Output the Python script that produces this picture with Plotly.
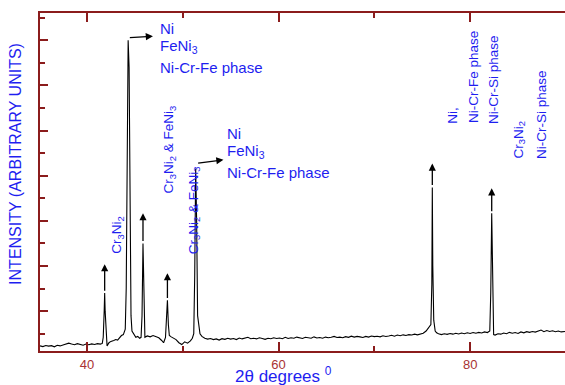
import plotly.graph_objects as go

# ---------------- data ----------------
two_theta = [
    35.1, 35.4, 35.7, 36.0, 36.3, 36.6, 36.9, 37.2, 37.5, 37.8, 38.1, 38.4, 38.7, 39.0, 39.3,
    39.6, 39.9, 40.2, 40.5, 40.8, 41.1, 41.4, 41.6, 41.7, 41.8, 41.85, 41.9, 42.0, 42.1, 42.3,
    42.5, 42.8, 43.0, 43.2, 43.4, 43.6, 43.8, 44.0, 44.1, 44.2, 44.3, 44.4, 44.5, 44.6, 44.7,
    44.9, 45.1, 45.3, 45.5, 45.65, 45.75, 45.85, 45.95, 46.05, 46.3, 46.6, 46.9, 47.2, 47.5, 47.8,
    48.0, 48.2, 48.3, 48.4, 48.5, 48.6, 48.8, 49.0, 49.3, 49.6, 49.9, 50.2, 50.5, 50.8, 51.0,
    51.15, 51.25, 51.35, 51.45, 51.55, 51.65, 51.8, 52.0, 52.3, 52.6, 52.9, 53.2, 53.5, 53.8, 54.1,
    54.4, 54.7, 55.0, 55.3, 55.6, 55.9, 56.2, 56.5, 56.8, 57.1, 57.4, 57.7, 58.0, 58.3, 58.6,
    58.9, 59.2, 59.5, 59.8, 60.1, 60.4, 60.7, 61.0, 61.3, 61.6, 61.9, 62.2, 62.5, 62.8, 63.1,
    63.4, 63.7, 64.0, 64.3, 64.6, 64.9, 65.2, 65.5, 65.8, 66.1, 66.4, 66.7, 67.0, 67.3, 67.6,
    67.9, 68.2, 68.5, 68.8, 69.1, 69.4, 69.7, 70.0, 70.3, 70.6, 70.9, 71.2, 71.5, 71.8, 72.1,
    72.4, 72.7, 73.0, 73.3, 73.6, 73.9, 74.2, 74.5, 74.8, 75.1, 75.4, 75.7, 75.9, 76.0, 76.05,
    76.1, 76.2, 76.35, 76.5, 76.7, 77.0, 77.3, 77.6, 77.9, 78.2, 78.5, 78.8, 79.1, 79.4, 79.7,
    80.0, 80.3, 80.6, 80.9, 81.2, 81.5, 81.8, 82.05, 82.15, 82.25, 82.35, 82.45, 82.6, 82.9, 83.2,
    83.5, 83.8, 84.1, 84.4, 84.7, 85.0, 85.3, 85.6, 85.9, 86.2, 86.5, 86.8, 87.1, 87.4, 87.7,
    88.0, 88.3, 88.6, 88.9, 89.2, 89.5, 89.8, 89.9,
]
intensity = [
    230, 215, 240, 225, 235, 210, 245, 230, 250, 265, 290, 270, 255, 280, 260,
    245, 270, 255, 275, 260, 280, 270, 285, 420, 1000, 1400, 1000, 380, 230, 300,
    330, 350, 370, 360, 420, 460, 480, 600, 1500, 5200, 7000, 6400, 3000, 900, 560,
    480, 420, 440, 400, 420, 900, 2500, 900, 420, 450, 430, 460, 440, 410, 350,
    300, 420, 800, 1240, 700, 460, 430, 400, 370, 300, 260, 320, 290, 340, 400,
    500, 1800, 4160, 3000, 900, 700, 500, 440, 400, 380, 395, 370, 385, 360, 390,
    375, 400, 380, 395, 370, 405, 385, 395, 420, 390, 400, 385, 410, 395, 375,
    400, 390, 410, 395, 405, 390, 420, 395, 410, 400, 425, 405, 395, 420, 410,
    400, 430, 405, 415, 400, 425, 410, 420, 440, 415, 425, 410, 435, 420, 445,
    425, 440, 430, 415, 440, 425, 450, 435, 445, 430, 455, 440, 450, 465, 445,
    470, 455, 475, 460, 480, 470, 490, 475, 500, 510, 560, 650, 700, 1600, 3740,
    2000, 800, 560, 520, 500, 480, 500, 485, 505, 490, 510, 495, 515, 500, 520,
    505, 525, 510, 530, 515, 540, 525, 560, 1400, 3170, 1200, 480, 470, 500, 490,
    515, 500, 530, 510, 525, 505, 540, 520, 545, 530, 550, 535, 560, 580, 545,
    570, 550, 565, 545, 560, 540, 555, 550,
]

# vertical arrows above peaks: x, tail y, head y
varrow_x = [41.85, 45.85, 48.4, 76.05, 82.25]
varrow_tail = [1420, 2520, 1260, 3760, 3180]
varrow_head = [2040, 3170, 1840, 4270, 3720]

# sideways arrows: tail (x, y) -> head (x, y)
harrow_tail_x = [44.32, 51.45]
harrow_tail_y = [7055, 4276]
harrow_head_x = [46.89, 54.25]
harrow_head_y = [7090, 4351]

# horizontal label blocks: x, list of (y, text)
block_x = [47.4, 54.4]
block_y = [[7254, 6856, 6392], [4934, 4536, 4072]]
block_text = ["Ni", "FeNi<sub>3</sub>", "Ni-Cr-Fe phase"]

# rotated labels centred at (x, y)
rot_c_x = [43.19, 48.67, 51.17]
rot_c_y = [2680, 4580, 3232]
rot_c_text = ["Cr<sub>3</sub>Ni<sub>2</sub>",
              "Cr<sub>3</sub>Ni<sub>2</sub> &amp; FeNi<sub>3</sub>",
              "Cr<sub>3</sub>Ni<sub>2</sub> &amp; FeNi<sub>3</sub>"]

# rotated labels with bottom at (x, y)
rot_b_x = [78.08, 80.35, 82.37, 85.1, 87.49]
rot_b_y = [5110, 5110, 5110, 4337, 4337]
rot_b_text = ["Ni,", "Ni-Cr-Fe phase", "Ni-Cr-Si phase",
              "Cr<sub>3</sub>Ni<sub>2</sub>", "Ni-Cr-Si phase"]

x_range = [35.1, 89.9]
y_range = [117, 7604]

# ---------------- styling ----------------
AX = "#8b1c1c"
LBL = "#a83232"
BLUE = "#1e1ef0"
FONT = "Liberation Sans, Arial, sans-serif"

fig = go.Figure()
fig.add_trace(go.Scatter(x=two_theta, y=intensity, mode="lines",
                         line=dict(color="black", width=1.1), hoverinfo="skip",
                         showlegend=False))

ann = []
for x, t, h in zip(varrow_x, varrow_tail, varrow_head):
    ann.append(dict(x=x, y=h, ax=x, ay=t, xref="x", yref="y", axref="x", ayref="y",
                    text="", showarrow=True, arrowhead=2, arrowsize=1.1,
                    arrowwidth=1.3, arrowcolor="black", standoff=0, startstandoff=0))
for tx, ty, hx, hy in zip(harrow_tail_x, harrow_tail_y, harrow_head_x, harrow_head_y):
    ann.append(dict(x=hx, y=hy, ax=tx, ay=ty, xref="x", yref="y", axref="x", ayref="y",
                    text="", showarrow=True, arrowhead=2, arrowsize=1.1,
                    arrowwidth=1.3, arrowcolor="black", standoff=0, startstandoff=0))
for bx, ys in zip(block_x, block_y):
    for y, t in zip(ys, block_text):
        ann.append(dict(x=bx, y=y, xref="x", yref="y", text=t, showarrow=False,
                        xanchor="left", yanchor="middle",
                        font=dict(family=FONT, size=15, color=BLUE)))
for x, y, t in zip(rot_c_x, rot_c_y, rot_c_text):
    ann.append(dict(x=x, y=y, xref="x", yref="y", text=t, showarrow=False,
                    textangle=-90, xanchor="center", yanchor="middle",
                    font=dict(family=FONT, size=13.5, color=BLUE)))
for x, y, t in zip(rot_b_x, rot_b_y, rot_b_text):
    ann.append(dict(x=x, y=y, xref="x", yref="y", text=t, showarrow=False,
                    textangle=-90, xanchor="center", yanchor="bottom",
                    font=dict(family=FONT, size=13.5, color=BLUE)))

# axis titles
ann.append(dict(x=-0.0467, y=0.555, xref="paper", yref="paper",
                text="INTENSITY (ARBITRARY UNITS)", textangle=-90, showarrow=False,
                xanchor="center", yanchor="middle",
                font=dict(family=FONT, size=16, color=BLUE)))
ann.append(dict(x=0.4638, y=-0.072, xref="paper", yref="paper",
                text="2\u03b8 degrees <sup>0</sup>", showarrow=False,
                xanchor="center", yanchor="middle",
                font=dict(family=FONT, size=17, color=BLUE)))

fig.update_layout(
    width=565, height=385,
    margin=dict(l=40, r=0, t=13, b=34),
    paper_bgcolor="white", plot_bgcolor="white",
    annotations=ann,
    xaxis=dict(range=x_range, showgrid=False, zeroline=False,
               showline=True, linecolor=AX, linewidth=2, mirror="ticks",
               ticks="inside", ticklen=9, tickwidth=1.5, tickcolor=AX,
               tick0=0, dtick=20,
               tickfont=dict(family=FONT, size=13, color=LBL),
               minor=dict(dtick=10, tick0=0, ticks="inside", ticklen=5,
                          tickwidth=1.5, tickcolor=AX, showgrid=False)),
    yaxis=dict(range=y_range, showgrid=False, zeroline=False,
               showline=True, linecolor=AX, linewidth=2, mirror=False,
               ticks="inside", ticklen=8, tickwidth=1.5, tickcolor=AX,
               tick0=0, dtick=1000, showticklabels=False,
               minor=dict(dtick=500, tick0=0, ticks="inside", ticklen=5,
                          tickwidth=1.5, tickcolor=AX, showgrid=False)),
)

fig.write_html("out.html")
